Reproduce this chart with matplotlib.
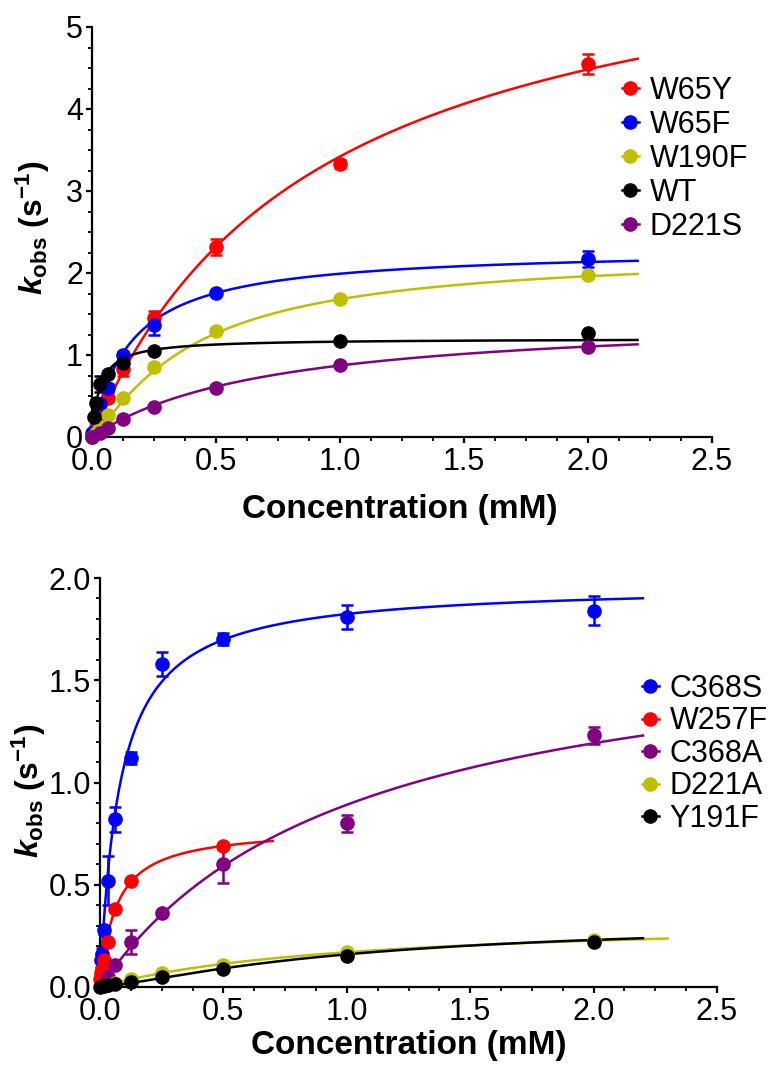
import numpy as np
import matplotlib.pyplot as plt
from matplotlib.lines import Line2D
from matplotlib.ticker import MultipleLocator

plt.rcParams['font.family'] = ['Liberation Sans', 'DejaVu Sans']
plt.rcParams['mathtext.fontset'] = 'custom'
plt.rcParams['mathtext.rm'] = 'Liberation Sans:bold'
plt.rcParams['mathtext.it'] = 'Liberation Sans:italic:bold'
plt.rcParams['mathtext.bf'] = 'Liberation Sans:bold'

YEL = '#bfbf00'
PUR = '#800080'

# ---- top panel data (concentration mM, kobs s^-1, error) ----
top_names = ['W65Y', 'W65F', 'W190F', 'WT', 'D221S']
top_colors = ['red', 'blue', YEL, 'black', PUR]
top_x = {
    'W65Y': [0, 0.0156, 0.03125, 0.0625, 0.125, 0.25, 0.5, 1.0, 2.0],
    'W65F': [0, 0.0156, 0.03125, 0.0625, 0.125, 0.25, 0.5, 2.0],
    'W190F': [0, 0.0156, 0.03125, 0.0625, 0.125, 0.25, 0.5, 1.0, 2.0],
    'WT': [0.0078, 0.0156, 0.03125, 0.0625, 0.125, 0.25, 1.0, 2.0],
    'D221S': [0, 0.03125, 0.0625, 0.125, 0.25, 0.5, 1.0, 2.0],
}
top_y = {
    'W65Y': [0.0, 0.12, 0.25, 0.48, 0.83, 1.45, 2.32, 3.33, 4.55],
    'W65F': [0.05, 0.22, 0.40, 0.60, 1.0, 1.37, 1.76, 2.17],
    'W190F': [0.0, 0.05, 0.12, 0.27, 0.48, 0.85, 1.29, 1.68, 1.97],
    'WT': [0.25, 0.42, 0.65, 0.77, 0.90, 1.05, 1.17, 1.27],
    'D221S': [0.0, 0.05, 0.11, 0.22, 0.37, 0.60, 0.88, 1.10],
}
top_err = {
    'W65Y': [0, 0, 0.03, 0.03, 0.09, 0.09, 0.10, 0.05, 0.12],
    'W65F': [0, 0, 0.03, 0.05, 0.04, 0.12, 0.03, 0.10],
    'W190F': [0, 0, 0, 0.02, 0.02, 0.03, 0.03, 0.03, 0.03],
    'WT': [0.02, 0.02, 0.10, 0.03, 0.03, 0.02, 0.02, 0.02],
    'D221S': [0, 0, 0.02, 0.02, 0.02, 0.02, 0.02, 0.02],
}
# fit parameters (Vmax, K, hill n, x end)
top_fit = {
    'W65Y': (6.5, 0.9, 1.0, 2.2),
    'W65F': (2.3, 0.155, 1.0, 2.2),
    'W190F': (2.25, 0.406, 1.2, 2.2),
    'WT': (1.2, 0.032, 1.0, 2.2),
    'D221S': (1.5, 0.72, 1.0, 2.2),
}

# ---- bottom panel data ----
bot_names = ['C368S', 'W257F', 'C368A', 'D221A', 'Y191F']
bot_colors = ['blue', 'red', PUR, YEL, 'black']
bot_x = {
    'C368S': [0.0039, 0.0078, 0.0156, 0.03125, 0.0625, 0.125, 0.25, 0.5, 1.0, 2.0],
    'W257F': [0, 0.0039, 0.0078, 0.0156, 0.03125, 0.0625, 0.125, 0.5],
    'C368A': [0.03125, 0.0625, 0.125, 0.25, 0.5, 1.0, 2.0],
    'D221A': [0.03125, 0.0625, 0.125, 0.25, 0.5, 1.0, 2.0],
    'Y191F': [0, 0.0078, 0.0156, 0.03125, 0.0625, 0.125, 0.25, 0.5, 1.0, 2.0],
}
bot_y = {
    'C368S': [0.13, 0.16, 0.28, 0.52, 0.82, 1.12, 1.58, 1.70, 1.81, 1.84],
    'W257F': [0.04, 0.07, 0.09, 0.13, 0.22, 0.38, 0.52, 0.69],
    'C368A': [0.05, 0.11, 0.22, 0.36, 0.60, 0.80, 1.23],
    'D221A': [0.01, 0.02, 0.04, 0.07, 0.11, 0.17, 0.23],
    'Y191F': [0.0, 0.003, 0.006, 0.01, 0.015, 0.025, 0.05, 0.09, 0.15, 0.22],
}
bot_err = {
    'C368S': [0.03, 0.03, 0.02, 0.12, 0.06, 0.03, 0.06, 0.03, 0.06, 0.07],
    'W257F': [0, 0, 0, 0, 0.01, 0.01, 0.01, 0.01],
    'C368A': [0, 0, 0.06, 0.01, 0.09, 0.04, 0.04],
    'D221A': [0, 0, 0, 0, 0, 0, 0],
    'Y191F': [0, 0, 0, 0, 0, 0, 0, 0, 0, 0],
}
bot_fit = {
    'C368S': (1.97, 0.08, 1.0, 2.2),
    'W257F': (0.78, 0.065, 1.0, 0.7),
    'C368A': (1.8, 1.02, 1.0, 2.2),
    'D221A': (0.34, 1.0, 1.0, 2.3),
    'Y191F': (0.33, 1.05, 1.3, 2.2),
}


def hill(x, v, k, n):
    return v * x ** n / (k ** n + x ** n)


def panel(ax, names, colors, xs, ys, errs, fits, ymax, ymajor, yminor, yfmt):
    handles = []
    for name, c in zip(names, colors):
        v, k, n, xend = fits[name]
        xf = np.linspace(0, xend, 400)
        ax.plot(xf, hill(xf, v, k, n), color=c, lw=1.8, clip_on=False, zorder=2)
        h = ax.errorbar(xs[name], ys[name], yerr=errs[name], fmt='o', color=c,
                        ms=9.5, elinewidth=1.8, capsize=4.5, capthick=1.8,
                        clip_on=False, zorder=3)
        for art in h.lines[1] + h.lines[2]:
            art.set_clip_on(False)
        handles.append(Line2D([], [], color=c, marker='o', ms=9.5, lw=1.8, label=name))
    ax.set_xlim(0, 2.5)
    ax.set_ylim(0, ymax)
    ax.xaxis.set_major_locator(MultipleLocator(0.5))
    ax.xaxis.set_minor_locator(MultipleLocator(0.125))
    ax.yaxis.set_major_locator(MultipleLocator(ymajor))
    ax.yaxis.set_minor_locator(MultipleLocator(yminor))
    ax.xaxis.set_major_formatter(plt.FormatStrFormatter('%.1f'))
    ax.yaxis.set_major_formatter(plt.FormatStrFormatter(yfmt))
    for s in ['top', 'right']:
        ax.spines[s].set_visible(False)
    for s in ['left', 'bottom']:
        ax.spines[s].set_linewidth(1.6)
    ax.tick_params(which='major', direction='out', length=4.5, width=1.6, labelsize=22)
    ax.tick_params(axis='x', which='major', pad=3)
    ax.tick_params(axis='y', which='major', pad=2)
    ax.tick_params(which='minor', direction='out', length=3, width=1.3)
    ax.set_xlabel('Concentration (mM)', fontsize=24, fontweight='bold')
    ax.set_ylabel(r'$\mathit{k}_{\mathrm{obs}}\ \mathrm{(s^{-1})}$', fontsize=23)
    return handles


fig = plt.figure(figsize=(7.71, 10.66), dpi=100)
W, H = 771, 1066

ax1 = fig.add_axes([92 / W, (H - 437) / H, 620 / W, 410 / H])
h1 = panel(ax1, top_names, top_colors, top_x, top_y, top_err, top_fit, 5, 1, 0.25, '%d')
ax1.xaxis.set_label_coords(0.497, -0.139)
ax1.yaxis.set_label_coords(-0.065, 0.51)
ax1.legend(handles=h1, loc='upper left', bbox_to_anchor=(622 / W, 1 - 76 / H),
           bbox_transform=fig.transFigure, frameon=False, fontsize=22,
           handlelength=0.55, handletextpad=0.35, labelspacing=0.13,
           borderpad=0, borderaxespad=0)

ax2 = fig.add_axes([100 / W, (H - 987) / H, 617 / W, 409 / H])
h2 = panel(ax2, bot_names, bot_colors, bot_x, bot_y, bot_err, bot_fit, 2.0, 0.5, 0.1, '%.1f')
ax2.xaxis.set_label_coords(0.5, -0.105)
ax2.yaxis.set_label_coords(-0.085, 0.48)
ax2.legend(handles=h2, loc='upper left', bbox_to_anchor=(642 / W, 1 - 674 / H),
           bbox_transform=fig.transFigure, frameon=False, fontsize=22,
           handlelength=0.55, handletextpad=0.35, labelspacing=0.08,
           borderpad=0, borderaxespad=0)

fig.savefig('out.png', dpi=100)
